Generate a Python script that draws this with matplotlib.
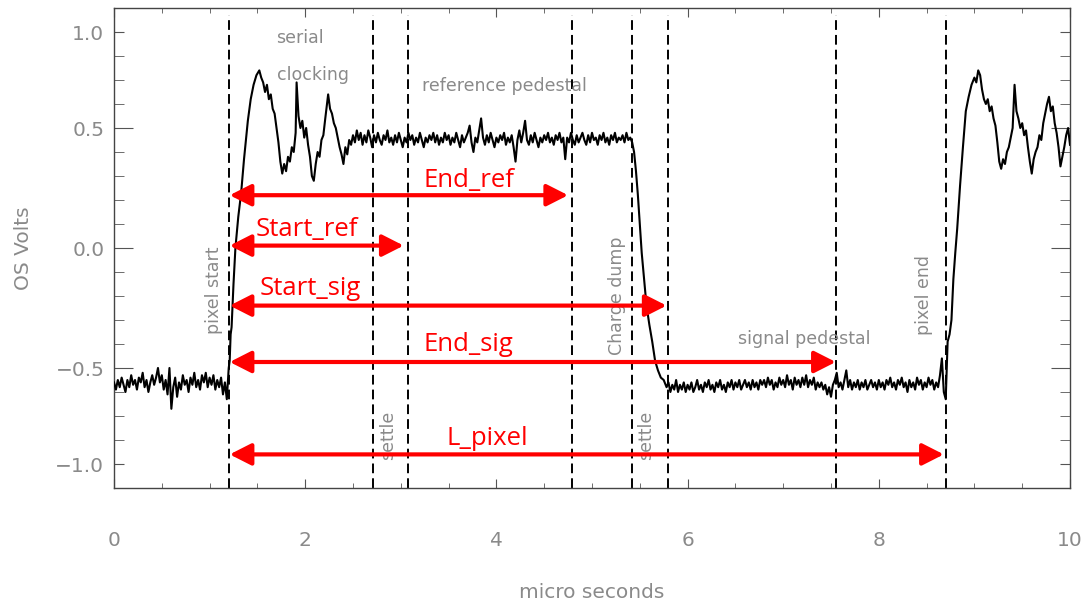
import numpy as np
import matplotlib
matplotlib.use('Agg')
import matplotlib.pyplot as plt

# output-stage waveform, read in pieces (time in us, volts)

# baseline before pixel start, every 0.02 us
t_base = np.linspace(0.0, 1.20, 61)
v_base = [-0.56, -0.59, -0.55, -0.58, -0.54, -0.57, -0.60, -0.55, -0.58, -0.53,
          -0.57, -0.55, -0.59, -0.54, -0.56, -0.52, -0.58, -0.55, -0.60, -0.56,
          -0.53, -0.57, -0.54, -0.50, -0.56, -0.53, -0.59, -0.55, -0.61, -0.50,
          -0.67, -0.58, -0.54, -0.62, -0.56, -0.59, -0.53, -0.57, -0.55, -0.60,
          -0.54, -0.57, -0.52, -0.58, -0.55, -0.59, -0.53, -0.56, -0.52, -0.58,
          -0.54, -0.57, -0.53, -0.59, -0.55, -0.58, -0.54, -0.61, -0.56, -0.63,
          -0.50]

# reset edge + serial clocking ringing
t_clock = [1.21, 1.22, 1.23, 1.25, 1.27, 1.30, 1.33, 1.36, 1.40, 1.43,
           1.46, 1.49, 1.52, 1.54, 1.56, 1.58, 1.60, 1.62, 1.64, 1.66,
           1.68, 1.70, 1.72, 1.74, 1.76, 1.78, 1.80, 1.82, 1.84, 1.86,
           1.88, 1.90, 1.91, 1.93, 1.95, 1.97, 1.99, 2.01, 2.03, 2.05,
           2.07, 2.09, 2.11, 2.13, 2.15, 2.17, 2.19, 2.21, 2.24, 2.26,
           2.28, 2.30, 2.32, 2.34, 2.36, 2.38, 2.40, 2.42, 2.44, 2.46,
           2.48, 2.50]
v_clock = [-0.47, -0.36, -0.33, -0.15, 0.00, 0.13, 0.23, 0.37, 0.53, 0.62,
           0.68, 0.72, 0.74, 0.71, 0.69, 0.65, 0.68, 0.62, 0.64, 0.58,
           0.56, 0.50, 0.44, 0.36, 0.31, 0.35, 0.32, 0.38, 0.36, 0.42,
           0.40, 0.48, 0.69, 0.55, 0.50, 0.53, 0.46, 0.50, 0.43, 0.38,
           0.30, 0.28, 0.35, 0.40, 0.38, 0.45, 0.47, 0.54, 0.64, 0.58,
           0.56, 0.52, 0.50, 0.46, 0.42, 0.39, 0.35, 0.42, 0.39, 0.45,
           0.43, 0.47]

# reference pedestal, every 0.02 us
t_ref = np.linspace(2.52, 5.42, 146)
v_ref = [0.44, 0.49, 0.45, 0.48, 0.43, 0.47, 0.44, 0.49, 0.46, 0.42,
         0.47, 0.44, 0.48, 0.45, 0.43, 0.47, 0.45, 0.49, 0.44, 0.46,
         0.43, 0.47, 0.44, 0.48, 0.45, 0.42, 0.46, 0.44, 0.48, 0.45,
         0.47, 0.43, 0.46, 0.44, 0.48, 0.45, 0.42, 0.46, 0.44, 0.47,
         0.45, 0.48, 0.44, 0.47, 0.43, 0.46, 0.44, 0.48, 0.45, 0.47,
         0.43, 0.46, 0.44, 0.48, 0.45, 0.42, 0.47, 0.44, 0.46, 0.48,
         0.51, 0.44, 0.40, 0.46, 0.44, 0.49, 0.54, 0.46, 0.43, 0.47,
         0.44, 0.48, 0.45, 0.42, 0.46, 0.44, 0.47, 0.45, 0.48, 0.43,
         0.46, 0.44, 0.47, 0.42, 0.36, 0.45, 0.49, 0.44, 0.48, 0.53,
         0.45, 0.43, 0.47, 0.44, 0.48, 0.45, 0.42, 0.46, 0.44, 0.47,
         0.45, 0.48, 0.44, 0.46, 0.43, 0.47, 0.45, 0.48, 0.44, 0.46,
         0.37, 0.46, 0.44, 0.48, 0.45, 0.43, 0.47, 0.44, 0.46, 0.48,
         0.45, 0.43, 0.47, 0.44, 0.48, 0.45, 0.46, 0.43, 0.47, 0.45,
         0.48, 0.44, 0.46, 0.43, 0.47, 0.45, 0.48, 0.44, 0.46, 0.45,
         0.47, 0.44, 0.48, 0.45, 0.46, 0.44]

# charge dump
t_dump = [5.44, 5.46, 5.48, 5.50, 5.52, 5.54, 5.57, 5.60, 5.63, 5.66,
          5.69, 5.72, 5.75, 5.78]
v_dump = [0.40, 0.32, 0.22, 0.10, -0.02, -0.11, -0.24, -0.32, -0.39, -0.47,
          -0.51, -0.54, -0.55, -0.58]

# signal pedestal, every 0.02 us
t_sig = np.linspace(5.80, 8.70, 146)
v_sig = [-0.56, -0.60, -0.57, -0.59, -0.55, -0.60, -0.57, -0.59, -0.56, -0.60,
         -0.57, -0.59, -0.56, -0.60, -0.58, -0.55, -0.59, -0.57, -0.60, -0.56,
         -0.58, -0.55, -0.59, -0.57, -0.60, -0.56, -0.58, -0.55, -0.59, -0.57,
         -0.60, -0.56, -0.58, -0.55, -0.59, -0.56, -0.58, -0.55, -0.59, -0.57,
         -0.55, -0.58, -0.56, -0.59, -0.55, -0.58, -0.56, -0.59, -0.55, -0.57,
         -0.55, -0.58, -0.54, -0.57, -0.55, -0.59, -0.56, -0.58, -0.54, -0.57,
         -0.55, -0.58, -0.53, -0.57, -0.55, -0.59, -0.54, -0.57, -0.55, -0.58,
         -0.54, -0.57, -0.53, -0.58, -0.55, -0.57, -0.54, -0.59, -0.56, -0.58,
         -0.56, -0.59, -0.57, -0.61, -0.58, -0.62, -0.57, -0.55, -0.52, -0.58,
         -0.56, -0.59, -0.55, -0.51, -0.58, -0.55, -0.59, -0.56, -0.58, -0.55,
         -0.59, -0.56, -0.58, -0.55, -0.59, -0.57, -0.55, -0.58, -0.56, -0.59,
         -0.55, -0.58, -0.56, -0.59, -0.55, -0.57, -0.54, -0.58, -0.56, -0.59,
         -0.55, -0.57, -0.54, -0.58, -0.56, -0.60, -0.55, -0.58, -0.56, -0.59,
         -0.54, -0.57, -0.55, -0.59, -0.56, -0.58, -0.54, -0.57, -0.55, -0.59,
         -0.56, -0.58, -0.53, -0.46, -0.60, -0.63]

# next pixel: reset edge and clocking again
t_next = [8.72, 8.74, 8.76, 8.78, 8.80, 8.82, 8.85, 8.88, 8.91, 8.94,
          8.97, 9.00, 9.02, 9.04, 9.06, 9.08, 9.10, 9.12, 9.14, 9.16,
          9.18, 9.20, 9.22, 9.24, 9.26, 9.28, 9.30, 9.32, 9.34, 9.36,
          9.38, 9.40, 9.42, 9.44, 9.46, 9.48, 9.50, 9.52, 9.54, 9.56,
          9.58, 9.60, 9.62, 9.64, 9.66, 9.68, 9.70, 9.72, 9.74, 9.76,
          9.78, 9.80, 9.82, 9.84, 9.86, 9.88, 9.90, 9.92, 9.94, 9.96,
          9.98, 10.00]
v_next = [-0.39, -0.36, -0.30, -0.13, -0.02, 0.08, 0.26, 0.42, 0.57, 0.63,
          0.68, 0.71, 0.69, 0.74, 0.72, 0.66, 0.62, 0.60, 0.62, 0.57,
          0.59, 0.54, 0.51, 0.44, 0.36, 0.33, 0.37, 0.35, 0.40, 0.42,
          0.46, 0.50, 0.68, 0.57, 0.54, 0.50, 0.52, 0.47, 0.49, 0.42,
          0.36, 0.31, 0.37, 0.40, 0.42, 0.47, 0.45, 0.52, 0.56, 0.60,
          0.63, 0.57, 0.59, 0.52, 0.48, 0.42, 0.34, 0.38, 0.42, 0.47,
          0.50, 0.43]

t = np.concatenate([t_base, t_clock, t_ref, t_dump, t_sig, t_next])
v = np.concatenate([v_base, v_clock, v_ref, v_dump, v_sig, v_next])

# timing marks
mark_x = [1.20, 2.71, 3.08, 4.79, 5.42, 5.79, 7.55, 8.70]

# red timing parameters, all measured from pixel start
par_names = ['End_ref', 'Start_ref', 'Start_sig', 'End_sig', 'L_pixel']
par_end = [4.75, 3.03, 5.78, 7.55, 8.68]
par_row = [0.22, 0.01, -0.24, -0.475, -0.86]
par_start = 1.21

grey = '#8a8a8a'
plt.rcParams['font.family'] = 'DejaVu Sans'

fig = plt.figure(figsize=(10.91, 6.05), dpi=100)
ax = fig.add_axes([114 / 1091, 117 / 605, 956 / 1091, 480 / 605])

ax.plot(t, v, color='black', lw=1.5, zorder=3)

for x in mark_x:
    ax.plot([x, x], [-1.0, 0.97], color='black', lw=1.4, dashes=(5, 2.6), zorder=2)

for name, x1, y, lx, ly in zip(par_names, par_end, par_row,
                               [3.71, 2.02, 2.05, 3.71, 3.91],
                               [0.255, 0.05, -0.195, -0.43, -0.82]):
    ax.annotate('', xy=(x1, y), xytext=(par_start, y),
                arrowprops=dict(arrowstyle='<|-|>,head_length=0.65,head_width=0.33',
                                color='red', lw=3, shrinkA=0, shrinkB=0,
                                mutation_scale=20), zorder=4)
    ax.text(lx, ly, name, color='red', fontsize=18.5, family='Open Sans',
            ha='center', va='baseline', zorder=5)

# phase names
notes = [('serial', 1.70, 0.876, 0, 'left'),
         ('clocking', 1.70, 0.72, 0, 'left'),
         ('reference pedestal', 3.22, 0.673, 0, 'left'),
         ('signal pedestal', 6.53, -0.378, 0, 'left'),
         ('pixel start', 1.05, -0.176, 90, 'center'),
         ('settle', 2.87, -0.78, 90, 'center'),
         ('Charge dump', 5.26, -0.20, 90, 'center'),
         ('settle', 5.57, -0.78, 90, 'center'),
         ('pixel end', 8.47, -0.197, 90, 'center')]
for s, x, y, rot, ha in notes:
    ax.text(x, y, s, color=grey, fontsize=12.5, rotation=rot, ha=ha, va='center')

ax.set_xlim(0, 10)
ax.set_ylim(-1, 1)
ax.set_xticks([0, 2, 4, 6, 8, 10])
ax.set_xticks(np.arange(0, 10.01, 0.5), minor=True)
ax.set_yticks([-0.9, -0.5, 0, 0.5, 0.9])
ax.set_yticklabels(['\u22121.0', '\u22120.5', '0.0', '0.5', '1.0'])
ax.set_yticks(np.arange(-1, 1.01, 0.1), minor=True)

ax.tick_params(axis='both', which='both', direction='in', top=True, right=True,
               color='#555555', labelcolor=grey, labelsize=14.5)
ax.tick_params(axis='x', which='major', length=6.5, pad=31)
ax.tick_params(axis='x', which='minor', length=3.6)
ax.tick_params(axis='y', which='major', length=13.7, pad=7)
ax.tick_params(axis='y', which='minor', length=7.2)
# the end labels sit on short ticks
for k in [0, -1]:
    tk = ax.yaxis.get_major_ticks()[k]
    tk.tick1line.set_markersize(7.2)
    tk.tick2line.set_markersize(7.2)

for sp in ax.spines.values():
    sp.set_color('#444444')
    sp.set_linewidth(1)

ax.set_xlabel('micro seconds', fontsize=14.5, color=grey, labelpad=24)
ax.set_ylabel('OS Volts', fontsize=14.5, color=grey, labelpad=16)

fig.savefig('out.png', dpi=100)
